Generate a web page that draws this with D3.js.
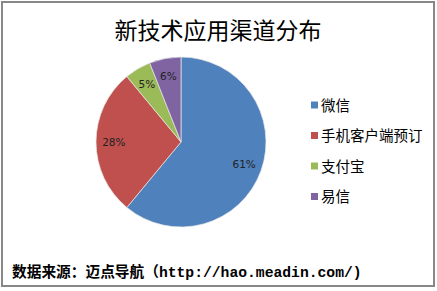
<!DOCTYPE html>
<html>
<head>
<meta charset="utf-8">
<script src="https://cdn.jsdelivr.net/npm/d3@7"></script>
<style>
  body { margin: 0; background: #fff; }
  svg { display: block; }
</style>
</head>
<body>
<div id="chart"></div>
<script>
const width = 437, height = 291;

const categories = ["微信", "手机客户端预订", "支付宝", "易信"];
const values = [61, 28, 5, 6];
const colors = ["#4F81BD", "#C0504D", "#9BBB59", "#8064A2"];

const titleText = "新技术应用渠道分布";
const sourceText = "数据来源：迈点导航（http://hao.meadin.com/)";

const svg = d3.select("#chart")
    .append("svg")
    .attr("width", width)
    .attr("height", height);

// outer frame
svg.append("rect")
    .attr("x", 2)
    .attr("y", 2)
    .attr("width", 432)
    .attr("height", 284)
    .attr("fill", "#fff")
    .attr("stroke", "#888")
    .attr("stroke-width", 2);

// title
svg.append("text")
    .attr("x", 218)
    .attr("y", 39)
    .attr("text-anchor", "middle")
    .style("font-family", "'Noto Sans CJK SC', sans-serif")
    .style("font-size", "23px")
    .style("fill", "#000")
    .text(titleText);

// pie
const cx = 181, cy = 142, r = 85;
const data = categories.map((c, i) => ({ name: c, value: values[i], color: colors[i] }));

const pie = d3.pie()
    .value(d => d.value)
    .sort(null);

const arc = d3.arc()
    .innerRadius(0)
    .outerRadius(r);

const labelArc = d3.arc()
    .innerRadius(r * 0.79)
    .outerRadius(r * 0.79);

const pieG = svg.append("g")
    .attr("transform", `translate(${cx}, ${cy})`);

const arcs = pie(data);

pieG.selectAll("path")
    .data(arcs)
    .enter()
    .append("path")
    .attr("d", arc)
    .attr("fill", d => d.data.color)
    .attr("stroke", "#e8e8e8")
    .attr("stroke-width", 0.7);

const total = d3.sum(values);

pieG.selectAll("text.pct")
    .data(arcs)
    .enter()
    .append("text")
    .attr("class", "pct")
    .attr("transform", d => `translate(${labelArc.centroid(d)})`)
    .attr("dy", "0.35em")
    .attr("text-anchor", "middle")
    .style("font-family", "'DejaVu Sans', sans-serif")
    .style("font-size", "10.5px")
    .style("fill", "#222")
    .text(d => Math.round(d.data.value / total * 100) + "%");

// legend
const legendY = d3.scalePoint()
    .domain(categories)
    .range([105, 196.5]);

const legend = svg.append("g");

legend.selectAll("rect")
    .data(data)
    .enter()
    .append("rect")
    .attr("x", 311)
    .attr("y", d => legendY(d.name) - 3.5)
    .attr("width", 7)
    .attr("height", 7)
    .attr("fill", d => d.color);

legend.selectAll("text")
    .data(data)
    .enter()
    .append("text")
    .attr("x", 321)
    .attr("y", d => legendY(d.name))
    .attr("dy", "0.38em")
    .style("font-family", "'Noto Sans CJK SC', sans-serif")
    .style("font-size", "14.5px")
    .style("fill", "#000")
    .text(d => d.name);

// source note
svg.append("text")
    .attr("x", 12)
    .attr("y", 277)
    .style("font-family", "'Liberation Mono', 'Noto Sans CJK SC', monospace")
    .style("font-size", "14.7px")
    .style("font-weight", "bold")
    .style("fill", "#000")
    .text(sourceText);
</script>
</body>
</html>
